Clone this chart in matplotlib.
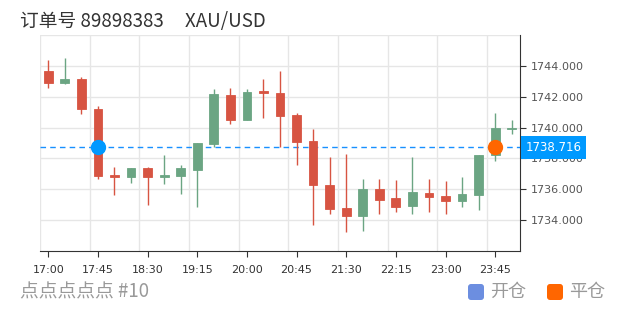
import numpy as np
import matplotlib
matplotlib.use('Agg')
import matplotlib.pyplot as plt
from matplotlib.patches import FancyBboxPatch
from matplotlib.transforms import IdentityTransform

plt.rcParams['font.family'] = ['Noto Sans CJK SC', 'DejaVu Sans']

# 15-minute candles, 17:00 -> 24:00
times = ['17:00', '17:15', '17:30', '17:45', '18:00', '18:15', '18:30', '18:45',
         '19:00', '19:15', '19:30', '19:45', '20:00', '20:15', '20:30', '20:45',
         '21:00', '21:15', '21:30', '21:45', '22:00', '22:15', '22:30', '22:45',
         '23:00', '23:15', '23:30', '23:45', '00:00']
opens = [1743.70, 1742.88, 1743.16, 1741.19, 1736.90, 1736.81, 1737.39, 1736.79,
         1736.87, 1737.26, 1738.93, 1742.14, 1740.51, 1742.38, 1742.25, 1740.80,
         1739.15, 1736.29, 1734.79, 1734.27, 1736.03, 1735.40, 1734.88, 1735.77,
         1735.55, 1735.21, 1735.64, 1738.20, 1739.93]
closes = [1742.90, 1743.16, 1741.21, 1736.83, 1736.77, 1737.39, 1736.81, 1736.92,
          1737.35, 1738.98, 1742.18, 1740.51, 1742.31, 1742.23, 1740.74, 1739.05,
          1736.25, 1734.71, 1734.27, 1735.99, 1735.31, 1734.86, 1735.79, 1735.49,
          1735.21, 1735.68, 1738.22, 1740.00, 1739.97]
highs = [1744.38, 1744.54, 1743.29, 1741.40, 1737.44, 1737.40, 1737.46, 1738.20,
         1737.55, 1738.99, 1742.51, 1742.60, 1742.49, 1743.18, 1743.68, 1740.95,
         1739.91, 1738.11, 1738.28, 1736.64, 1736.66, 1736.58, 1738.09, 1736.66,
         1736.51, 1736.79, 1738.23, 1740.95, 1740.49]
lows = [1742.59, 1742.85, 1740.90, 1736.68, 1735.62, 1736.42, 1734.97, 1736.33,
        1735.68, 1734.86, 1738.72, 1740.21, 1740.50, 1740.62, 1738.72, 1737.59,
        1733.69, 1734.36, 1733.21, 1733.30, 1734.40, 1734.50, 1734.40, 1734.53,
        1734.40, 1734.86, 1734.63, 1737.85, 1739.56]

price = 1738.716
open_idx = 3    # 开仓
close_idx = 27  # 平仓
yticks = [1734, 1736, 1738, 1740, 1742, 1744]

red = '#d75442'
green = '#6ba583'

fig = plt.figure(figsize=(6.2, 3.1), dpi=100)
ax = fig.add_axes([40 / 620, 1 - 250.7 / 310, 480 / 620, 215.4 / 310])

x = np.arange(len(times))
o = np.array(opens)
c = np.array(closes)
cols = [green if cc >= oo else red for oo, cc in zip(o, c)]

# grid
for g in np.arange(-0.5, len(times) - 1, 3):
    ax.axvline(g, color='#e6e6e6', lw=1, zorder=0)
for g in np.arange(1734, 1747, 2):
    ax.axhline(g, color='#e6e6e6', lw=1, zorder=0)

ax.axhline(price, color='#1890ff', lw=1, ls=(0, (4, 3)), zorder=1)

ax.vlines(x, lows, highs, colors=cols, lw=1, zorder=2)
ax.bar(x, np.maximum(np.abs(c - o), 0.02), bottom=np.minimum(o, c), width=0.53,
       color=cols, edgecolor=cols, linewidth=0.6, zorder=3)

ax.plot([open_idx], [price], 'o', color='#0099ff', ms=10, zorder=5)
ax.plot([close_idx], [price], 'o', color='#ff6600', ms=10, zorder=5)

ax.set_xlim(-0.5, len(times) - 0.5)
ax.set_ylim(1732, 1746)
ax.set_xticks(x[::3])
ax.set_xticklabels(times[::3][:10], fontsize=8, color='#333333', family='DejaVu Sans')
ax.set_yticks(yticks)
ax.set_yticklabels(['%.3f' % v for v in yticks], fontsize=8, color='#555555',
                   family='DejaVu Sans')
ax.yaxis.tick_right()
ax.tick_params(axis='y', length=4, color='#333333', pad=4)
ax.tick_params(axis='x', length=4, color='#333333', pad=6)
for s in ['left', 'top']:
    ax.spines[s].set_visible(False)
for s in ['right', 'bottom']:
    ax.spines[s].set_color('#333333')

ax.text(1.012, price, '%.3f' % price, transform=ax.get_yaxis_transform(),
        ha='left', va='center', fontsize=8.5, color='white', family='DejaVu Sans',
        bbox=dict(boxstyle='square,pad=0.4', fc='#0099ff', ec='none'), zorder=6,
        clip_on=False)

fig.text(20 / 620, 1 - 21 / 310, '订单号 89898383     XAU/USD', fontsize=13.5,
         color='#333333', ha='left', va='center')
fig.text(20 / 620, 1 - 292 / 310, '点点点点点 #10', fontsize=13.5,
         color='#999999', ha='left', va='center')

# legend
for lx, col, lab in [(468, '#6c8ee0', '开仓'), (547, '#ff6600', '平仓')]:
    fig.add_artist(FancyBboxPatch((lx, 310 - 300), 16, 16,
                                  boxstyle='round,pad=0,rounding_size=3',
                                  fc=col, ec='none', transform=IdentityTransform()))
    fig.text((lx + 22) / 620, 1 - 292 / 310, lab, fontsize=13,
             color='#999999', ha='left', va='center')

fig.savefig('out.png', dpi=100)
